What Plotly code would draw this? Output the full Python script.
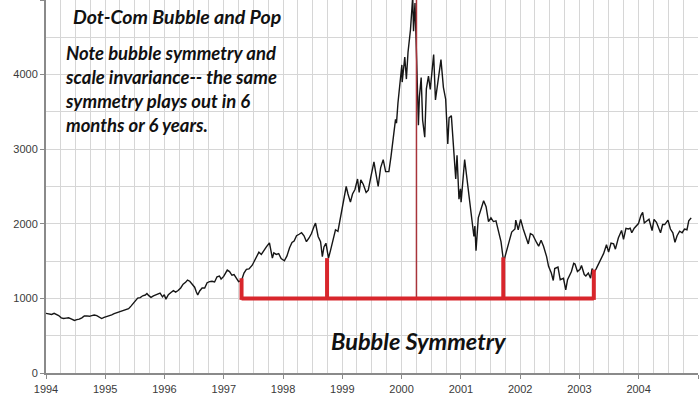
import plotly.graph_objects as go

# ---------------- data ----------------
dates = [
    "1994-01-01","1994-01-20","1994-02-05","1994-02-20","1994-03-05","1994-03-20","1994-04-05","1994-04-20",
    "1994-05-05","1994-05-20","1994-06-05","1994-06-25","1994-07-10","1994-07-25","1994-08-10","1994-08-25",
    "1994-09-10","1994-09-25","1994-10-10","1994-10-25","1994-11-10","1994-11-25","1994-12-10","1994-12-25",
    "1995-01-10","1995-01-25","1995-02-10","1995-02-25","1995-03-10","1995-03-25","1995-04-10","1995-04-25",
    "1995-05-10","1995-05-25","1995-06-10","1995-06-25","1995-07-10","1995-07-20","1995-08-05","1995-08-20",
    "1995-09-05","1995-09-15","1995-09-25","1995-10-10","1995-10-25","1995-11-10","1995-11-25","1995-12-05",
    "1995-12-20","1995-12-31",
    "1996-01-10","1996-01-25","1996-02-10","1996-02-25","1996-03-10","1996-03-25","1996-04-10","1996-04-25",
    "1996-05-10","1996-05-22","1996-06-05","1996-06-20","1996-07-05","1996-07-15","1996-07-24","1996-08-05",
    "1996-08-20","1996-09-05","1996-09-20","1996-10-05","1996-10-20","1996-11-05","1996-11-20","1996-12-05",
    "1996-12-15","1996-12-31",
    "1997-01-10","1997-01-22","1997-02-05","1997-02-20","1997-03-05","1997-03-20","1997-04-02","1997-04-20",
    "1997-05-05","1997-05-20","1997-06-05","1997-06-25","1997-07-10","1997-07-25","1997-08-05","1997-08-20",
    "1997-09-05","1997-09-20","1997-10-09","1997-10-27","1997-11-05","1997-11-20","1997-12-05","1997-12-20",
    "1998-01-09","1998-01-25","1998-02-10","1998-02-25","1998-03-10","1998-03-25","1998-04-10","1998-04-25",
    "1998-05-10","1998-05-25","1998-06-10","1998-06-25","1998-07-10","1998-07-20","1998-08-05","1998-08-20",
    "1998-08-31","1998-09-10","1998-09-22","1998-10-08","1998-10-20","1998-11-05","1998-11-20","1998-12-05",
    "1998-12-20",
    "1999-01-10","1999-01-25","1999-02-05","1999-02-20","1999-03-05","1999-03-20","1999-04-05","1999-04-15",
    "1999-04-25","1999-05-10","1999-05-28","1999-06-10","1999-06-25","1999-07-15","1999-07-25","1999-08-10",
    "1999-08-25","1999-09-10","1999-09-25","1999-10-15","1999-10-28","1999-11-10","1999-11-25","1999-12-01",
    "1999-12-10","1999-12-31",
    "2000-01-03","2000-01-05","2000-01-21","2000-01-31","2000-02-10","2000-02-25","2000-03-03","2000-03-10",
    "2000-03-15","2000-03-24","2000-04-03","2000-04-14","2000-04-20","2000-05-01","2000-05-10","2000-05-23",
    "2000-06-02","2000-06-15","2000-06-26","2000-07-17","2000-07-28","2000-08-10","2000-08-31","2000-09-15",
    "2000-09-29","2000-10-12","2000-10-20","2000-11-03","2000-11-20","2000-11-30","2000-12-08","2000-12-20",
    "2000-12-29",
    "2001-01-02","2001-01-24","2001-02-05","2001-02-20","2001-03-05","2001-03-22","2001-03-28","2001-04-04",
    "2001-04-18","2001-05-01","2001-05-21","2001-06-05","2001-06-20","2001-07-05","2001-07-20","2001-08-05",
    "2001-08-20","2001-09-05","2001-09-21","2001-10-05","2001-10-25","2001-11-10","2001-11-30","2001-12-05",
    "2001-12-20",
    "2002-01-04","2002-01-20","2002-02-05","2002-02-20","2002-03-05","2002-03-20","2002-04-12","2002-04-25",
    "2002-05-10","2002-05-25","2002-06-13","2002-06-25","2002-07-12","2002-07-24","2002-08-02","2002-08-22",
    "2002-09-05","2002-09-25","2002-10-09","2002-10-20","2002-11-13","2002-11-27","2002-12-05","2002-12-20",
    "2003-01-05","2003-01-14","2003-01-31","2003-02-10","2003-02-25","2003-03-11","2003-03-20","2003-03-31",
    "2003-04-15","2003-04-30","2003-05-15","2003-05-30","2003-06-17","2003-06-30","2003-07-15","2003-07-31",
    "2003-08-11","2003-08-29","2003-09-18","2003-09-30","2003-10-15","2003-10-30","2003-11-10","2003-11-20",
    "2003-12-05","2003-12-31",
    "2004-01-15","2004-01-26","2004-02-05","2004-02-20","2004-03-05","2004-03-24","2004-04-05","2004-04-20",
    "2004-05-05","2004-05-15","2004-05-28","2004-06-10","2004-06-30","2004-07-15","2004-07-30","2004-08-12",
    "2004-08-25","2004-09-10","2004-09-25","2004-10-10","2004-10-25","2004-11-05","2004-11-20",
]
values = [
    800,795,785,800,790,770,740,730,
    735,740,725,705,715,722,740,765,
    765,760,770,777,770,745,730,745,
    755,760,780,795,805,815,830,843,
    855,862,900,935,980,1005,1010,1035,
    1045,1065,1040,1015,1035,1050,1065,1070,
    1020,1050,
    990,1050,1080,1105,1085,1105,1140,1190,
    1215,1245,1230,1190,1150,1090,1045,1100,
    1140,1140,1210,1225,1230,1220,1290,1300,
    1260,1295,
    1330,1380,1360,1310,1320,1260,1225,1240,
    1340,1390,1395,1445,1510,1590,1620,1590,
    1650,1690,1745,1540,1610,1590,1600,1535,
    1505,1570,1680,1750,1770,1840,1860,1880,
    1840,1760,1810,1870,1960,2010,1830,1760,
    1560,1690,1740,1540,1640,1800,1920,1900,
    2080,
    2300,2500,2400,2290,2400,2460,2600,2420,
    2590,2530,2420,2450,2620,2830,2700,2500,
    2750,2860,2700,2700,2900,3120,3400,3350,
    3620,4069,
    4130,3900,4235,3940,4300,4600,4900,5048,
    4580,4960,4220,3320,3700,3960,3390,3160,
    3810,3980,3800,4270,3660,3860,4200,3830,
    3670,3070,3420,3450,2880,2600,2920,2330,
    2470,
    2290,2860,2640,2320,2120,1830,1970,1640,
    2080,2170,2310,2230,2030,2080,2030,2040,
    1880,1760,1490,1600,1750,1890,1930,2050,
    1920,
    2060,1930,1830,1730,1870,1850,1750,1700,
    1780,1700,1560,1430,1340,1240,1400,1420,
    1250,1270,1114,1250,1360,1470,1460,1360,
    1390,1440,1320,1300,1340,1271,1400,1340,
    1400,1460,1540,1600,1720,1620,1740,1730,
    1660,1810,1910,1790,1940,1930,1940,1880,
    1940,2003,
    2110,2153,2010,2030,2060,1910,2060,2020,
    1930,1880,1990,1990,2050,1930,1880,1752,
    1840,1900,1880,1930,1920,2040,2080,
]

# bubble-symmetry markers (date, top value) and baseline level
sym_dates = ["1997-04-20", "1998-09-29", "2001-09-19", "2003-03-31"]
sym_tops = [1270, 1540, 1550, 1385]
sym_base = 1000
peak_date = "2000-04-02"
peak_top = 5200

y_ticks = [0, 1000, 2000, 3000, 4000, 5000]

title_text = "Dot-Com Bubble and Pop"
note_text = ("Note bubble symmetry and<br>scale invariance-- the same<br>"
             "symmetry plays out in 6<br>months or 6 years.")
sym_text = "Bubble Symmetry"

# ---------------- figure ----------------
W, H = 700, 394
ML, MR, MT, MB = 46, 2, 0, 21
PW, PH = W - ML - MR, H - MT - MB


def px(xp):
    return (xp - ML) / PW


def py(yp):
    return (H - MB - yp) / PH


fig = go.Figure()
fig.add_trace(go.Scatter(x=dates, y=values, mode="lines",
                         line=dict(color="#161616", width=1.4),
                         hoverinfo="skip", showlegend=False))

red = "#d8262c"
shapes = []
shapes.append(dict(type="line", xref="x", yref="y", x0=peak_date, x1=peak_date,
                   y0=sym_base, y1=peak_top, line=dict(color="#a8343a", width=1.5)))
shapes.append(dict(type="line", xref="x", yref="y", x0=sym_dates[0], x1=sym_dates[-1],
                   y0=sym_base, y1=sym_base, line=dict(color=red, width=4)))
for d, t in zip(sym_dates, sym_tops):
    shapes.append(dict(type="line", xref="x", yref="y", x0=d, x1=d,
                       y0=sym_base - 20, y1=t, line=dict(color=red, width=4)))

annos = [
    dict(text=title_text, x=px(71), y=py(16), xanchor="left", yanchor="middle",
         font=dict(family="Lato", size=19.5, color="#111", weight="bold", style="italic")),
    dict(text=note_text, x=px(63), y=py(40), xanchor="left", yanchor="top", align="left",
         font=dict(family="Lato", size=18.5, color="#111", weight="bold", style="italic")),
    dict(text=sym_text, x=px(419), y=py(341), xanchor="center", yanchor="middle",
         font=dict(family="Lato", size=23.5, color="#111", weight="bold", style="italic")),
]
for a in annos:
    a.update(xref="paper", yref="paper", showarrow=False)

fig.update_layout(
    width=W, height=H,
    margin=dict(l=ML, r=MR, t=MT, b=MB, pad=0, autoexpand=False),
    paper_bgcolor="white", plot_bgcolor="white",
    shapes=shapes, annotations=annos,
    showlegend=False,
    font=dict(family="Liberation Sans", size=11, color="#3a3a3a"),
)
fig.update_xaxes(
    type="date", range=["1994-01-01", "2005-01-01"],
    dtick="M12", tick0="1994-01-01", tickformat="%Y",
    showgrid=True, gridcolor="#d6d6d6", gridwidth=1,
    minor=dict(dtick="M3", showgrid=True, gridcolor="#d6d6d6", gridwidth=1),
    showline=True, linecolor="#8a8a8a", linewidth=2,
    ticks="outside", ticklen=4, tickcolor="#8a8a8a",
    ticklabelstandoff=1, automargin=False,
    zeroline=False,
)
fig.update_yaxes(
    range=[0, 5000], tickvals=y_ticks, tickformat="d",
    showgrid=True, gridcolor="#d6d6d6", gridwidth=1,
    minor=dict(dtick=500, showgrid=True, gridcolor="#d6d6d6", gridwidth=1),
    showline=True, linecolor="#8a8a8a", linewidth=2,
    ticks="outside", ticklen=4, tickcolor="#8a8a8a",
    automargin=False,
    zeroline=False,
)

fig.write_html("out.html", config={"displayModeBar": False},
               post_script="document.body.style.margin='0';")
